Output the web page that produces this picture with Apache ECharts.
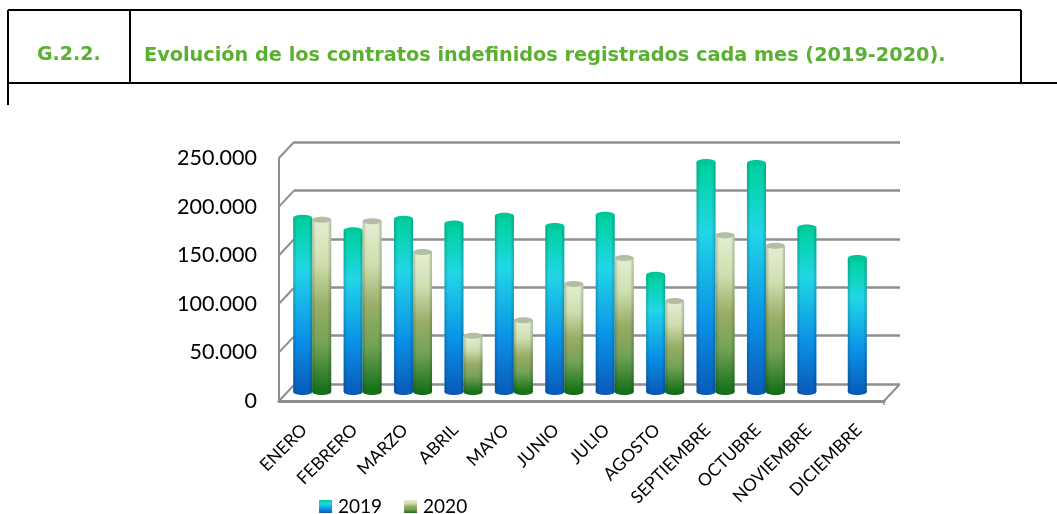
<!DOCTYPE html>
<html>
<head>
<meta charset="utf-8">
<title>G.2.2.</title>
<style>
html, body { margin: 0; padding: 0; background: #fff; }
#main { width: 1057px; height: 514px; }
</style>
<script src="https://cdn.jsdelivr.net/npm/echarts@6/dist/echarts.min.js"></script>
</head>
<body>
<div id="main"></div>
<script>
// datos
var meses = ['ENERO', 'FEBRERO', 'MARZO', 'ABRIL', 'MAYO', 'JUNIO', 'JULIO', 'AGOSTO', 'SEPTIEMBRE', 'OCTUBRE', 'NOVIEMBRE', 'DICIEMBRE'];
var datos2019 = [180000, 167000, 179000, 174000, 182000, 171500, 183000, 121000, 237500, 236500, 170000, 138500];
var datos2020 = [178000, 176500, 144500, 58000, 74000, 111500, 138500, 94000, 162000, 151000, null, null];
var marcasY = [0, 50000, 100000, 150000, 200000, 250000];

var gris = '#8e8e8e';
var verdeTitulo = '#5bb033';

function degradado(paradas) {
	return {
		type: 'linear', x: 0, y: 0, x2: 0, y2: 1,
		colorStops: paradas.map(function(p) {
			return { offset: p[0], color: p[1] };
		})
	};
}
var color2019 = degradado([[0, '#00cf9f'], [0.08, '#06d3ad'], [0.3, '#22d6e6'], [0.7, '#0a90e6'], [1, '#0a5cba']]);
var color2020 = degradado([[0, '#e4eed2'], [0.25, '#cfdfb0'], [0.5, '#98ad66'], [0.72, '#74a356'], [1, '#157018']]);

// cilindro: dibuja una barra con su tapa a partir de las escalas del eje
function cilindro(lado, colorTapa, colorBase) {
	return function(params, api) {
		var v = api.value(1);
		if (v == null || isNaN(v)) {
			return;
		}
		var arriba = api.coord([api.value(0), v]);
		var abajo = api.coord([api.value(0), 0]);
		var ancho = 19;
		var x = arriba[0] + (lado < 0 ? -ancho : 0);
		var rx = ancho / 2;
		var ry = 3;
		var sombra = {
			type: 'linear', x: 0, y: 0, x2: 1, y2: 0,
			colorStops: [
				{ offset: 0, color: 'rgba(0,40,40,0.22)' },
				{ offset: 0.18, color: 'rgba(0,0,0,0)' },
				{ offset: 0.82, color: 'rgba(0,0,0,0)' },
				{ offset: 1, color: 'rgba(0,40,40,0.25)' }
			]
		};
		return {
			type: 'group',
			children: [
				{ type: 'ellipse', shape: { cx: x + rx, cy: abajo[1], rx: rx, ry: ry }, style: { fill: colorBase } },
				{ type: 'rect', shape: { x: x, y: arriba[1], width: ancho, height: abajo[1] - arriba[1] }, style: { fill: api.visual('color') } },
				{ type: 'rect', shape: { x: x, y: arriba[1], width: ancho, height: abajo[1] - arriba[1] }, style: { fill: sombra } },
				{ type: 'ellipse', shape: { cx: x + rx, cy: arriba[1], rx: rx, ry: ry }, style: { fill: colorTapa } }
			]
		};
	};
}

// lineas diagonales que unen el eje frontal con la pared del fondo
function esquinas(params, api) {
	var y = api.coord([0, api.value(1)])[1];
	var c = params.coordSys;
	var hijos = [{
		type: 'line',
		shape: { x1: c.x, y1: y, x2: c.x + 15, y2: y - 16 },
		style: { stroke: gris, lineWidth: 2 }
	}];
	if (api.value(1) === 0) {
		hijos.push({
			type: 'line',
			shape: { x1: c.x + c.width, y1: y, x2: c.x + c.width + 15, y2: y - 16 },
			style: { stroke: gris, lineWidth: 2 }
		});
		hijos.push({
			type: 'line',
			shape: { x1: c.x + c.width, y1: y, x2: c.x + c.width, y2: y + 4 },
			style: { stroke: gris, lineWidth: 1.5 }
		});
	}
	return { type: 'group', children: hijos };
}

function pares(valores) {
	return valores.map(function(v, i) {
		return [i, v];
	});
}

function miles(v) {
	return String(v).replace(/\B(?=(\d{3})+$)/g, '.');
}

function linea(x1, y1, x2, y2) {
	return {
		type: 'line',
		shape: { x1: x1, y1: y1, x2: x2, y2: y2 },
		style: { stroke: '#000', lineWidth: 2 }
	};
}

var myChart = echarts.init(document.getElementById('main'));
var option = {
	backgroundColor: '#fff',
	animation: false,
	title: [{
		text: 'G.2.2.', left: 32, top: 41,
		textStyle: { fontFamily: 'DejaVu Sans', fontSize: 19, fontWeight: 'bold', color: verdeTitulo }
	}, {
		text: 'Evolución de los contratos indefinidos registrados cada mes (2019-2020).', left: 139, top: 41,
		textStyle: { fontFamily: 'DejaVu Sans', fontSize: 19.3, fontWeight: 'bold', color: verdeTitulo }
	}],
	legend: {
		data: ['2019', '2020'],
		left: 314, top: 492,
		icon: 'rect',
		itemWidth: 13, itemHeight: 13, itemGap: 22,
		textStyle: { fontFamily: 'Lato', fontSize: 19, color: '#000', padding: [0, 0, 0, 1] }
	},
	graphic: [
		linea(8, 10, 1021, 10),
		linea(8, 83, 1057, 83),
		linea(8, 10, 8, 105),
		linea(130, 10, 130, 83),
		linea(1021, 10, 1021, 83)
	],
	grid: [
		// eje frontal
		{ left: 279, top: 158, width: 605, height: 243 },
		// pared del fondo
		{ left: 294, top: 142, width: 606, height: 242 },
		// plano de las barras
		{ left: 287, top: 150, width: 605, height: 242 }
	],
	xAxis: [{
		type: 'category', gridIndex: 0, data: meses,
		axisLine: { lineStyle: { color: gris, width: 3 } },
		axisTick: { alignWithLabel: true, length: 5, lineStyle: { color: gris, width: 1.5 } },
		axisLabel: { rotate: 45, interval: 0, margin: 26, color: '#000', fontFamily: 'Lato', fontSize: 17.5 }
	}, {
		type: 'category', gridIndex: 1, data: meses, show: false
	}, {
		type: 'category', gridIndex: 2, data: meses, show: false
	}],
	yAxis: [{
		type: 'value', gridIndex: 0, min: 0, max: 250000, interval: 50000,
		axisLine: { show: true, lineStyle: { color: gris, width: 2 } },
		axisTick: { show: false },
		splitLine: { show: false },
		axisLabel: { formatter: miles, margin: 22, color: '#000', fontFamily: 'Lato', fontSize: 21.5 }
	}, {
		type: 'value', gridIndex: 1, min: 0, max: 250000, interval: 50000,
		axisLine: { show: false },
		axisTick: { show: false },
		axisLabel: { show: false },
		splitLine: { show: true, lineStyle: { color: gris, width: 2.5 } }
	}, {
		type: 'value', gridIndex: 2, min: 0, max: 250000, interval: 50000, show: false,
		splitLine: { show: false }
	}],
	series: [{
		type: 'custom', xAxisIndex: 0, yAxisIndex: 0, z: 1, silent: true,
		renderItem: esquinas,
		data: marcasY.map(function(v) { return [0, v]; }),
		encode: { x: 0, y: 1 }
	}, {
		name: '2019', type: 'custom', xAxisIndex: 2, yAxisIndex: 2, z: 3,
		renderItem: cilindro(-1, '#00c79a', '#0a5cba'),
		itemStyle: { color: color2019 },
		data: pares(datos2019),
		encode: { x: 0, y: 1 }
	}, {
		name: '2020', type: 'custom', xAxisIndex: 2, yAxisIndex: 2, z: 4,
		renderItem: cilindro(1, '#b3bea4', '#157018'),
		itemStyle: { color: color2020 },
		data: pares(datos2020),
		encode: { x: 0, y: 1 }
	}]
};
myChart.setOption(option);
</script>
</body>
</html>
